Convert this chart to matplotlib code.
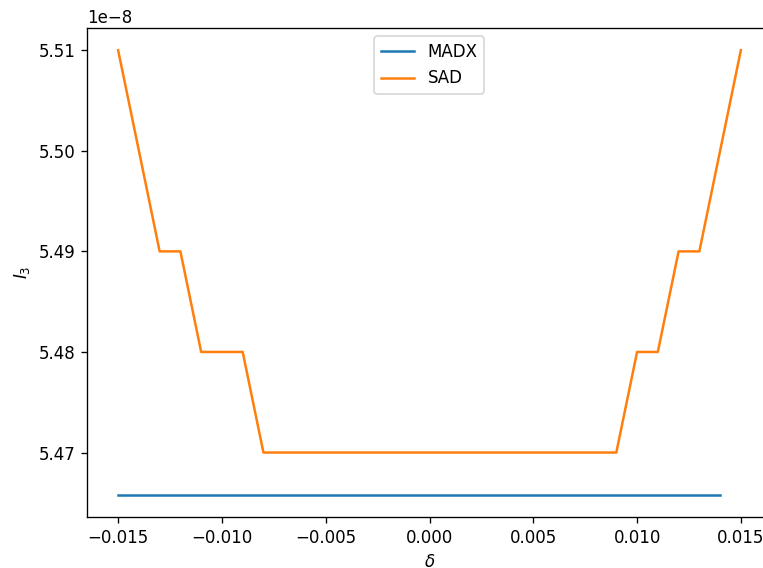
import matplotlib
matplotlib.use("Agg")
import matplotlib.pyplot as plt
import numpy as np

# momentum deviation grid
delta = [round(-0.015 + 0.001 * i, 3) for i in range(31)]

# I3 values (units of 1e-8)
madx_i3 = [5.4658] * 30          # MADX run stops at 0.014
sad_i3 = ([5.51, 5.50, 5.49, 5.49, 5.48, 5.48, 5.48]
          + [5.47] * 18
          + [5.48, 5.48, 5.49, 5.49, 5.50, 5.51])

madx = np.array(madx_i3) * 1e-8
sad = np.array(sad_i3) * 1e-8

dpi = 120
fig = plt.figure(figsize=(763 / dpi, 568 / dpi), dpi=dpi)
# axes run past the right edge, as in the cropped original
ax = fig.add_axes([87 / 763, 51 / 568, 685 / 763, 489 / 568])

ax.plot(delta[:30], madx, label="MADX")
ax.plot(delta, sad, label="SAD")
ax.set_xlabel(r"$\delta$")
ax.set_ylabel(r"$I_3$")
ax.legend(loc="upper center")

fig.savefig("out.png", dpi=dpi)
